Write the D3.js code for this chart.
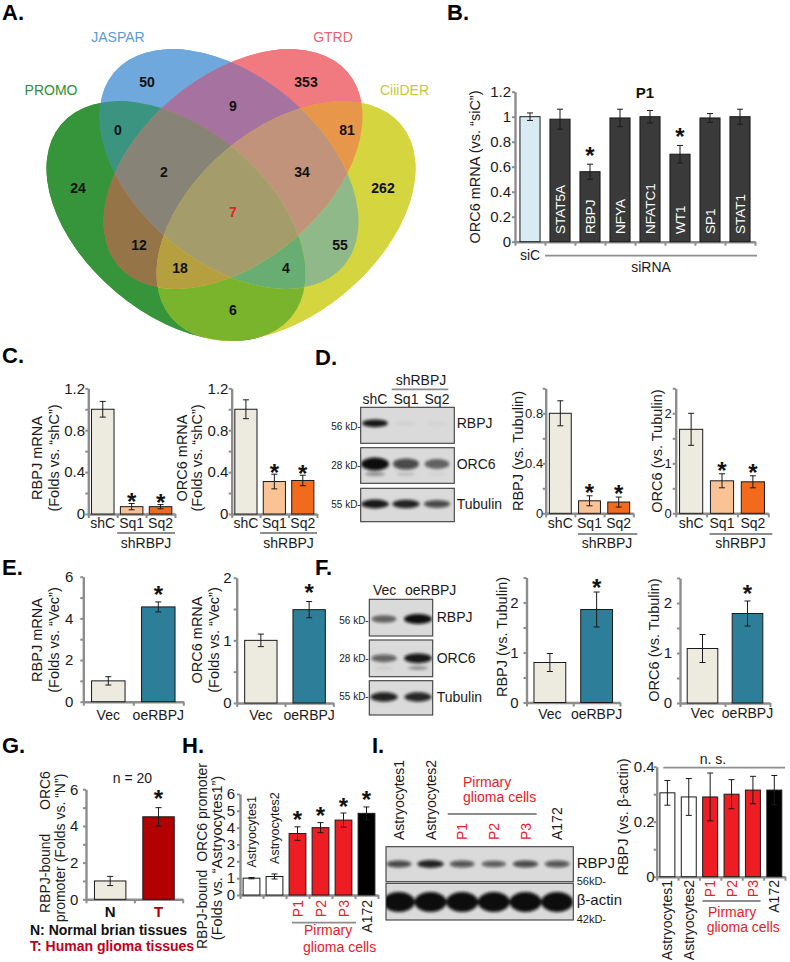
<!DOCTYPE html>
<html><head><meta charset="utf-8"><title>Figure</title>
<script src="https://cdn.jsdelivr.net/npm/d3@7/dist/d3.min.js"></script>
<style>html,body{margin:0;padding:0;background:#fff}svg{display:block}</style>
</head><body>
<svg id="fig" width="790" height="962" xmlns="http://www.w3.org/2000/svg"></svg>
<script>
// ================= DATA =================
// Panel A (Venn)
const vennSets = ["PROMO", "JASPAR", "GTRD", "CiiiDER"];
const vennRegions = ["P","J","G","C","PJ","JG","GC","PC","PG","JC","PJG","JGC","PGC","PJC","PJGC"];
const vennCounts = [24, 50, 353, 262, 0, 9, 81, 6, 12, 55, 2, 34, 18, 4, 7];

// Panel B
const bCats = ["siC","STAT5A","RBPJ","NFYA","NFATC1","WT1","SP1","STAT1"];
const bVals = [1.00, 0.98, 0.56, 0.99, 1.00, 0.70, 0.99, 1.00];
const bErrs = [0.03, 0.08, 0.06, 0.07, 0.05, 0.07, 0.035, 0.06];
const bStars = [0,0,1,0,0,1,0,0];
const bTicks = [0,0.2,0.4,0.6,0.8,1.0,1.2];
const bTickLabels = [0,0.2,0.4,0.6,0.8,1.0,1.2];

// Panel C
const shCats = ["shC","Sq1","Sq2"];
const cRbpjVals = [1.00, 0.07, 0.07];
const cRbpjErrs = [0.075, 0.03, 0.02];
const cOrc6Vals = [1.00, 0.31, 0.32];
const cOrc6Errs = [0.09, 0.07, 0.05];
const shStars = [0,1,1];
const cTicks = [0,0.2,0.4,0.6,0.8,1.0,1.2];
const cTickLabels = [0,0.4,0.8,1.2];

// Panel D
const dBlotRbpj = [0.95, 0.05, 0.04];
const dBlotOrc6 = [1.0, 0.72, 0.55];
const dBlotOrc6Low = [0.35, 0.15, 0.05];
const dBlotTub = [0.95, 0.9, 0.72];
const dRbpjVals = [0.80, 0.10, 0.09];
const dRbpjErrs = [0.10, 0.04, 0.04];
const dOrc6Vals = [1.68, 0.65, 0.63];
const dOrc6Errs = [0.32, 0.14, 0.12];
const dRbpjTicks = [0,0.2,0.4,0.6,0.8,1.0];
const dRbpjTickLabels = [0,0.4,0.8];
const halfTicks25 = [0,0.5,1,1.5,2,2.5];
const halfTickLabels = [0,1,2];

// Panel E
const oeCats = ["Vec","oeRBPJ"];
const eRbpjVals = [1.0, 4.55];
const eRbpjErrs = [0.2, 0.24];
const eOrc6Vals = [1.0, 1.49];
const eOrc6Errs = [0.1, 0.13];
const oeStars = [0,1];
const sixTicks = [0,1,2,3,4,5,6];
const sixTickLabels = [0,2,4,6];
const eOrc6Ticks = [0,0.5,1,1.5,2];

// Panel F
const fBlotRbpj = [0.55, 1.0];
const fBlotOrc6 = [0.6, 0.95];
const fBlotOrc6Low = [0.08, 0.35];
const fBlotTub = [0.9, 0.88];
const fRbpjVals = [0.80, 1.86];
const fRbpjErrs = [0.18, 0.35];
const fOrc6Vals = [1.09, 1.79];
const fOrc6Errs = [0.28, 0.25];

// Panel G
const gCats = ["N","T"];
const gVals = [1.0, 4.5];
const gErrs = [0.25, 0.5];
const gStars = [0,1];

// Panel H
const hCats = ["Astryocytes1","Astryocytes2","P1","P2","P3","A172"];
const hVals = [1.0, 1.1, 3.65, 4.0, 4.45, 4.85];
const hErrs = [0.04, 0.15, 0.4, 0.3, 0.42, 0.38];
const hStars = [0,0,1,1,1,1];
const hTicks = [0,1,2,3,4,5,6];

// Panel I
const iBlotRbpj = [0.72, 0.9, 0.66, 0.62, 0.72, 0.66];
const iBlotActin = [1, 1, 1, 1, 1, 1];
const iVals = [0.305, 0.29, 0.29, 0.30, 0.315, 0.315];
const iErrs = [0.045, 0.067, 0.087, 0.053, 0.05, 0.053];
const iTicks = [0,0.1,0.2,0.3,0.4];
const iTickLabels = [0,0.2,0.4];

// ================= DRAWING =================
const FONT = '"Liberation Sans", Arial, Helvetica, sans-serif';
const AX = "#8d8d8d";
const RED = "#e8202a";
const svg = d3.select("#fig").attr("font-family", FONT);
svg.append("rect").attr("width",790).attr("height",962).attr("fill","#fff");
const defs = svg.append("defs");
defs.append("filter").attr("id","blur").attr("x","-30%").attr("y","-80%").attr("width","160%").attr("height","260%")
  .append("feGaussianBlur").attr("stdDeviation",1.6);

const fmt = d => String(+(+d).toFixed(2));

function T(g, x, y, s, o = {}) {
  const t = g.append("text").attr("x", x).attr("y", y).text(s)
    .attr("font-size", o.fs || 14).attr("fill", o.fill || "#1a1a1a")
    .attr("text-anchor", o.anchor || "start");
  if (o.bold) t.attr("font-weight", "bold");
  if (o.pre) t.style("white-space", "pre");
  if (o.rot !== undefined) t.attr("transform", `rotate(${o.rot},${x},${y})`);
  return t;
}
// vertical text: cx = visual centre of the text column
function V(g, cx, cy, s, o = {}) {
  const fs = o.fs || 14.5;
  return T(g, cx + 0.36 * fs, cy, s, Object.assign({ anchor: "middle", rot: -90, fs: fs }, o));
}

function barChart(o) {
  const g = svg.append("g");
  const n = o.cats.length;
  const x = d3.scaleBand().domain(o.cats).range([o.x0, o.x1]).paddingInner(o.pad).paddingOuter(o.pad / 2);
  const y = d3.scaleLinear().domain([0, o.max]).range([o.y0, o.yTop]);
  const isLab = d => o.labels.some(l => Math.abs(l - d) < 1e-9);
  const gap = o.gap === undefined ? 4 : o.gap;
  const ya = d3.axisLeft(y).tickValues(o.ticks).tickSize(3).tickSizeOuter(0).tickPadding(gap - 3)
    .tickFormat(d => isLab(d) ? fmt(d) : "");
  const yg = g.append("g").attr("transform", `translate(${o.x0},0)`).call(ya);
  const xb = d3.scaleLinear().domain([0, n]).range([o.x0, o.x1]);
  const xa = d3.axisBottom(xb).tickValues(d3.range(n + 1)).tickSize(4).tickSizeOuter(0).tickFormat("");
  const xg = g.append("g").attr("transform", `translate(0,${o.y0})`).call(xa);
  [yg, xg].forEach(a => {
    a.attr("font-family", FONT);
    a.select(".domain").attr("stroke", AX).attr("stroke-width", 2.4);
    a.selectAll(".tick line").attr("stroke", AX).attr("stroke-width", 2);
  });
  yg.selectAll(".tick text").attr("font-size", o.tfs || 14).attr("fill", "#1a1a1a");
  g.append("g").selectAll("rect").data(o.vals).join("rect")
    .attr("x", (d, i) => x(o.cats[i])).attr("y", d => y(d))
    .attr("width", x.bandwidth()).attr("height", d => o.y0 - y(d))
    .attr("fill", (d, i) => o.fills[i]).attr("stroke", "#1a1a1a").attr("stroke-width", 1);
  const eg = g.append("g").attr("stroke", "#1a1a1a").attr("stroke-width", 1);
  const cap = o.cap || 3;
  o.vals.forEach((v, i) => {
    const cx = x(o.cats[i]) + x.bandwidth() / 2, e = o.errs[i];
    eg.append("line").attr("x1", cx).attr("x2", cx).attr("y1", y(v - e)).attr("y2", y(v + e));
    eg.append("line").attr("x1", cx - cap).attr("x2", cx + cap).attr("y1", y(v + e)).attr("y2", y(v + e));
    eg.append("line").attr("x1", cx - cap).attr("x2", cx + cap).attr("y1", y(v - e)).attr("y2", y(v - e));
    if (o.stars && o.stars[i]) {
      T(g, cx, y(v + e) - o.starGap + 13.5, "*", { fs: 24, bold: true, anchor: "middle", fill: "#111" });
    }
  });
  const cx = c => x(c) + x.bandwidth() / 2;
  if (o.xlab !== false) {
    o.cats.forEach((c, i) => T(g, cx(c), o.y0 + (o.xOff || 14.5), c,
      { anchor: "middle", fs: o.xfs || 14, bold: o.xbold, fill: o.xfill ? o.xfill[i] : "#1a1a1a" }));
  }
  return { g, x, y, xb, cx };
}

function grayLine(g, x1, x2, y) {
  g.append("line").attr("x1", x1).attr("x2", x2).attr("y1", y).attr("y2", y)
    .attr("stroke", AX).attr("stroke-width", 1.8);
}

let clipN = 0;
function blotBox(box, lane, rows) {
  const g = svg.append("g");
  const id = "bc" + (clipN++);
  defs.append("clipPath").attr("id", id).append("rect")
    .attr("x", box[0]).attr("y", box[1]).attr("width", box[2]).attr("height", box[3]);
  g.append("rect").attr("x", box[0]).attr("y", box[1]).attr("width", box[2]).attr("height", box[3])
    .attr("fill", "#dadada");
  const inner = g.append("g").attr("clip-path", `url(#${id})`).append("g").attr("filter", "url(#blur)");
  rows.forEach(r => {
    inner.append("g").selectAll("ellipse").data(r.vals).join("ellipse")
      .attr("cx", (d, i) => lane(i) + lane.bandwidth() / 2)
      .attr("cy", r.y).attr("rx", d => r.rx * (0.75 + 0.25 * d)).attr("ry", d => r.ry * (0.45 + 0.55 * d))
      .attr("fill", "#0b0b0b").attr("opacity", d => Math.min(1, d));
  });
  g.append("rect").attr("x", box[0]).attr("y", box[1]).attr("width", box[2]).attr("height", box[3])
    .attr("fill", "none").attr("stroke", "#3c3c3c").attr("stroke-width", 1.1);
  return g;
}

// ---------- Panel letters ----------
[["A.",2,20],["B.",447,20],["C.",2,363],["D.",315,365],["E.",2,575],["F.",315,575],["G.",2,753],["H.",182,753],["I.",372,753]]
  .forEach(p => T(svg, p[1], p[2], p[0], { fs: 22, bold: true, fill: "#000" }));

// ---------- Panel A: Venn ----------
(function () {
  const VA = 150, VB = 93;
  const ell = [
    { cx: 176, cy: 221, rot: 40 },
    { cx: 229, cy: 169, rot: 40 },
    { cx: 233, cy: 169, rot: -40 },
    { cx: 286, cy: 221, rot: -40 }
  ];
  const setKey = ["P", "J", "G", "C"];
  const vennFill = {
    P: "#36953a", J: "#6fa8dc", G: "#f07a80", C: "#d5d540",
    PJ: "#3a9480", JG: "#a6729f", GC: "#e8964a", PC: "#79b42c", PG: "#957548", JC: "#90b98a",
    PJG: "#878477", JGC: "#c0937a", PGC: "#b59f3e", PJC: "#68ad72", PJGC: "#a49d6b"
  };
  const labelPos = {
    P: [78, 188], J: [147, 82], G: [306, 82], C: [383, 188], PJ: [118, 130], JG: [233, 106],
    GC: [347, 130], PC: [233, 310], PG: [139, 245], JC: [340, 245], PJG: [164, 172],
    JGC: [302, 172], PGC: [180, 268], PJC: [286, 268], PJGC: [233, 212]
  };
  const ellAttrs = (sel, e) => sel.attr("cx", 0).attr("cy", 0).attr("rx", VA).attr("ry", VB)
    .attr("transform", `translate(${e.cx},${e.cy}) rotate(${e.rot})`);
  ell.forEach((e, i) => ellAttrs(defs.append("clipPath").attr("id", "vc" + i).append("ellipse"), e));
  const vg = svg.append("g");
  ell.forEach((e, i) => ellAttrs(vg.append("ellipse"), e).attr("fill", vennFill[setKey[i]]));
  vennRegions.forEach((r, k) => {
    const inc = [], exc = [];
    setKey.forEach((s, i) => (r.includes(s) ? inc : exc).push(i));
    const mid = "vm" + k;
    const m = defs.append("mask").attr("id", mid).attr("maskUnits", "userSpaceOnUse")
      .attr("x", 0).attr("y", 0).attr("width", 790).attr("height", 962);
    m.append("rect").attr("x", 0).attr("y", 0).attr("width", 790).attr("height", 962).attr("fill", "white");
    exc.forEach(i => ellAttrs(m.append("ellipse"), ell[i]).attr("fill", "black"));
    let g = vg;
    inc.forEach(i => { g = g.append("g").attr("clip-path", `url(#vc${i})`); });
    g.append("rect").attr("x", 0).attr("y", 0).attr("width", 460).attr("height", 380)
      .attr("fill", vennFill[r]).attr("mask", `url(#${mid})`);
  });
  vennRegions.forEach((r, k) => {
    const p = labelPos[r];
    T(svg, p[0], p[1] + 5, String(vennCounts[k]), { fs: 14, bold: true, anchor: "middle", fill: r === "PJGC" ? RED : "#111" });
  });
  const setLab = [[51, 95, "#2f8f33", "middle"], [118, 42, "#5b9bd5", "middle"], [333, 42, "#e8636f", "middle"], [380, 95, "#c8c832", "start"]];
  vennSets.forEach((s, i) => T(svg, setLab[i][0], setLab[i][1], s, { fs: 14, fill: setLab[i][2], anchor: setLab[i][3] }));
})();

// ---------- Panel B ----------
(function () {
  const c = barChart({ x0: 515, x1: 755, y0: 241.7, yTop: 91.7, max: 1.2, ticks: bTicks, labels: bTickLabels,
    cats: bCats, vals: bVals, errs: bErrs, fills: bCats.map((d, i) => i === 0 ? "#d8ebf3" : "#3a3a3a"),
    pad: 0.33, stars: bStars, starGap: 14, xlab: false, tfs: 15, gap: 4 });
  bCats.forEach((cat, i) => { if (i > 0) T(c.g, c.cx(cat) + 4.8, 234, cat, { fs: 13.5, fill: "#fff", rot: -90 }); });
  T(c.g, c.cx(bCats[0]), 260, "siC", { anchor: "middle" });
  grayLine(c.g, c.xb(1), 757, 255.7);
  T(c.g, (c.xb(1) + 757) / 2, 272, "siRNA", { anchor: "middle" });
  T(c.g, 645, 98, "P1", { fs: 15, bold: true, anchor: "middle", fill: "#111" });
  V(c.g, 475, 167, "ORC6 mRNA (vs. \u201CsiC\u201D)");
})();

// ---------- Panel C ----------
(function () {
  const common = { y0: 514, yTop: 388.3, max: 1.2, ticks: cTicks, labels: cTickLabels, cats: shCats,
    fills: ["#edebe0", "#fac396", "#f26b1c"], pad: 0.22, stars: shStars, starGap: 7, xOff: 14, tfs: 15, gap: 3.3 };
  const c1 = barChart(Object.assign({ x0: 88.3, x1: 175, vals: cRbpjVals, errs: cRbpjErrs }, common));
  const c2 = barChart(Object.assign({ x0: 231.7, x1: 317, vals: cOrc6Vals, errs: cOrc6Errs }, common));
  [c1, c2].forEach(c => {
    grayLine(c.g, c.xb(1), c.xb(3), 533);
    T(c.g, (c.xb(1) + c.xb(3)) / 2, 548, "shRBPJ", { anchor: "middle" });
  });
  V(c1.g, 36.7, 458, "RBPJ mRNA");
  V(c1.g, 53.3, 458, "(Folds vs. \u201CshC\u201D)");
  V(c2.g, 181.7, 458, "ORC6 mRNA");
  V(c2.g, 196.7, 458, "(Folds vs. \u201CshC\u201D)");
})();

// ---------- Panel D ----------
(function () {
  const lane = d3.scaleBand().domain(d3.range(3)).range([359.5, 452.5]);
  blotBox([360.7, 407.3, 93.6, 36], lane, [{ y: 423.3, rx: 13, ry: 4, vals: dBlotRbpj }]);
  blotBox([360.7, 447.7, 93.6, 35.6], lane, [{ y: 464, rx: 14, ry: 6.5, vals: dBlotOrc6 }, { y: 474, rx: 12, ry: 3, vals: dBlotOrc6Low }]);
  blotBox([360.7, 488.3, 93.6, 33.4], lane, [{ y: 504, rx: 14, ry: 4.5, vals: dBlotTub }]);
  const g = svg.append("g");
  shCats.forEach((c, i) => T(g, lane(i) + lane.bandwidth() / 2, 404, c, { anchor: "middle" }));
  grayLine(g, 391.7, 448.3, 389.3);
  T(g, 421, 385, "shRBPJ", { anchor: "middle" });
  [["RBPJ", 428], ["ORC6", 469], ["Tubulin", 509]].forEach(p => T(g, 456.7, p[1], p[0]));
  [["56 kD-", 430], ["28 kD-", 469], ["55 kD-", 508]].forEach(p => T(g, 360.7, p[1], p[0], { fs: 10, anchor: "end" }));

  const common = { y0: 513.3, yTop: 388.3, cats: shCats, fills: ["#edebe0", "#fac396", "#f26b1c"],
    pad: 0.25, stars: shStars, starGap: 8.4, xOff: 14.7, tfs: 13 };
  const d1 = barChart(Object.assign({ x0: 545.7, x1: 633.3, max: 1.0, ticks: dRbpjTicks, labels: dRbpjTickLabels,
    vals: dRbpjVals, errs: dRbpjErrs, gap: 2.5 }, common));
  const d2 = barChart(Object.assign({ x0: 675.7, x1: 768.3, max: 2.5, ticks: halfTicks25, labels: halfTickLabels,
    vals: dOrc6Vals, errs: dOrc6Errs, gap: 4 }, common));
  [d1, d2].forEach(c => {
    grayLine(c.g, c.xb(1) + 3, c.xb(3) + 4, 534);
    T(c.g, (c.xb(1) + c.xb(3)) / 2 + 3, 548, "shRBPJ", { anchor: "middle" });
  });
  V(d1.g, 518, 451, "RBPJ (vs. Tubulin)");
  V(d2.g, 657, 451, "ORC6 (vs. Tubulin)");
})();

// ---------- Panel E ----------
(function () {
  const fills = ["#edebe0", "#2c7e99"];
  const e1 = barChart({ x0: 83.3, x1: 183.3, y0: 701.7, yTop: 576.7, max: 6, ticks: sixTicks, labels: sixTickLabels,
    cats: oeCats, vals: eRbpjVals, errs: eRbpjErrs, fills: fills, pad: 0.33, stars: oeStars, starGap: 12, xOff: 18.3,
    tfs: 15, gap: 10 });
  const e2 = barChart({ x0: 236.7, x1: 333.3, y0: 703, yTop: 577.7, max: 2, ticks: eOrc6Ticks, labels: halfTickLabels,
    cats: oeCats, vals: eOrc6Vals, errs: eOrc6Errs, fills: fills, pad: 0.33, stars: oeStars, starGap: 14, xOff: 17,
    tfs: 15, gap: 5 });
  V(e1.g, 36.7, 640, "RBPJ mRNA");
  V(e1.g, 53.3, 640, "(Folds vs. \u201CVec\u201D)");
  V(e2.g, 196.7, 640, "ORC6 mRNA");
  V(e2.g, 213.3, 640, "(Folds vs. \u201CVec\u201D)");
})();

// ---------- Panel F ----------
(function () {
  const lane = d3.scaleBand().domain(d3.range(2)).range([367, 435]);
  blotBox([369.3, 599.3, 63.4, 36.7], lane, [{ y: 619, rx: 14, ry: 5, vals: fBlotRbpj }]);
  blotBox([369.3, 640, 63.4, 36.7], lane, [{ y: 658.3, rx: 14, ry: 5, vals: fBlotOrc6 }, { y: 668, rx: 12, ry: 3, vals: fBlotOrc6Low }]);
  blotBox([369.3, 680.7, 63.4, 34.3], lane, [{ y: 697, rx: 14, ry: 5, vals: fBlotTub }]);
  const g = svg.append("g");
  T(g, 373, 595, oeCats[0]);
  T(g, 405, 595, oeCats[1]);
  [["RBPJ", 622], ["ORC6", 663], ["Tubulin", 702]].forEach(p => T(g, 436.7, p[1], p[0]));
  [["56 kD-", 624], ["28 kD-", 662], ["55 kD-", 700]].forEach(p => T(g, 368.7, p[1], p[0], { fs: 10, anchor: "end" }));
  const fills = ["#edebe0", "#2c7e99"];
  const f1 = barChart({ x0: 526.5, x1: 620, y0: 702.5, yTop: 577.5, max: 2.5, ticks: halfTicks25, labels: halfTickLabels,
    cats: oeCats, vals: fRbpjVals, errs: fRbpjErrs, fills: fills, pad: 0.32, stars: oeStars, starGap: 10, xOff: 16,
    tfs: 15, gap: 8 });
  const f2 = barChart({ x0: 680, x1: 770, y0: 703, yTop: 578, max: 2.5, ticks: halfTicks25, labels: halfTickLabels,
    cats: oeCats, vals: fOrc6Vals, errs: fOrc6Errs, fills: fills, pad: 0.32, stars: oeStars, starGap: 12.7, xOff: 15.3,
    tfs: 15, gap: 8 });
  V(f1.g, 501.7, 637, "RBPJ (vs. Tubulin)");
  V(f2.g, 654, 640, "ORC6 (vs. Tubulin)");
})();

// ---------- Panel G ----------
(function () {
  const c = barChart({ x0: 86, x1: 182.7, y0: 899.3, yTop: 789.3, max: 6, ticks: sixTicks, labels: sixTickLabels,
    cats: gCats, vals: gVals, errs: gErrs, fills: ["#edebe0", "#b30000"], pad: 0.35, stars: gStars, starGap: 14,
    xOff: 17.4, xfs: 15, xbold: true, xfill: ["#111", "#b30000"], tfs: 15, gap: 7.7 });
  T(c.g, 132.5, 782.7, "n = 20", { anchor: "middle" });
  T(c.g, 30, 935, "N: Normal brian tissues", { bold: true, fill: "#111" });
  T(c.g, 30, 951, "T: Human glioma tissues", { bold: true, fill: "#c0001a" });
  // first label line: two words with a wide gap, as in the original
  T(c.g, 45 + 5, 913, "RBPJ-bound", { fs: 14, rot: -90 });
  T(c.g, 45 + 5, 810, "ORC6", { fs: 14, rot: -90 });
  V(c.g, 60, 848, "promoter (Folds vs. \u201CN\u201D)", { fs: 14 });
})();

// ---------- Panel H ----------
(function () {
  const c = barChart({ x0: 240, x1: 378, y0: 895, yTop: 794, max: 6, ticks: hTicks, labels: hTicks,
    cats: hCats, vals: hVals, errs: hErrs, fills: ["#fff", "#fff", "#ee1d23", "#ee1d23", "#ee1d23", "#000"],
    pad: 0.27, stars: hStars, starGap: 12, xlab: false, tfs: 15, gap: 5 });
  hCats.forEach((cat, i) => {
    if (i < 2) T(c.g, c.cx(cat) + 4.5, c.y(hVals[i] + hErrs[i]) - 10, cat, { fs: 12.5, rot: -90 });
    else T(c.g, c.cx(cat) + 5, 900, cat, { fs: 14, rot: -90, anchor: "end", fill: i < 5 ? RED : "#1a1a1a" });
  });
  grayLine(c.g, c.xb(2) + 6, c.xb(5) + 1, 922.7);
  T(c.g, 304, 935, "Pirmary", { fill: RED });
  T(c.g, 303, 951.7, "glioma cells", { fill: RED });
  V(c.g, 201.7, 856, "RBPJ-bound  ORC6 promoter", { fs: 14, pre: true });
  V(c.g, 216.7, 858, "(Folds vs. \u201CAstryocytes1\u201D)", { fs: 14.5 });
})();

// ---------- Panel I ----------
(function () {
  const lane = d3.scaleBand().domain(d3.range(6)).range([383, 573]);
  blotBox([386, 846.7, 187.3, 35], lane, [{ y: 864, rx: 13.5, ry: 4.2, vals: iBlotRbpj }]);
  blotBox([386, 883.3, 187.3, 36.7], lane, [{ y: 902, rx: 16, ry: 10, vals: iBlotActin }]);
  const g = svg.append("g");
  hCats.forEach((cat, i) => T(g, lane(i) + lane.bandwidth() / 2 + 5, 840, cat,
    { fs: 14, rot: -90, fill: (i >= 2 && i <= 4) ? RED : "#1a1a1a" }));
  grayLine(g, 447.7, 536.7, 814);
  T(g, 463, 786.7, "Pirmary", { fill: RED });
  T(g, 463, 801.7, "glioma cells", { fill: RED });
  T(g, 576.7, 868.3, "RBPJ", { fs: 15 });
  T(g, 576.7, 885, "56kD-", { fs: 11 });
  T(g, 576.7, 905, "\u03B2-actin", { fs: 15 });
  T(g, 576.7, 923.3, "42kD-", { fs: 11 });

  const c = barChart({ x0: 656.7, x1: 785, y0: 876.7, yTop: 766.7, max: 0.4, ticks: iTicks, labels: iTickLabels,
    cats: hCats, vals: iVals, errs: iErrs, fills: ["#fff", "#fff", "#ee1d23", "#ee1d23", "#ee1d23", "#000"],
    pad: 0.3, xlab: false, tfs: 15, gap: 2 });
  hCats.forEach((cat, i) => T(c.g, c.cx(cat) + 5, 880, cat,
    { fs: 14, rot: -90, anchor: "end", fill: (i >= 2 && i <= 4) ? RED : "#1a1a1a" }));
  grayLine(c.g, 663.3, 785, 767.7);
  T(c.g, 713, 764.3, "n. s.", { anchor: "middle" });
  grayLine(c.g, c.xb(2) + 3, c.xb(5) - 3, 901);
  T(c.g, 708, 916.7, "Pirmary", { fill: RED });
  T(c.g, 706.7, 931.7, "glioma cells", { fill: RED });
  V(c.g, 623, 817, "RBPJ (vs. \u03B2-actin)");
})();
</script>
</body></html>
